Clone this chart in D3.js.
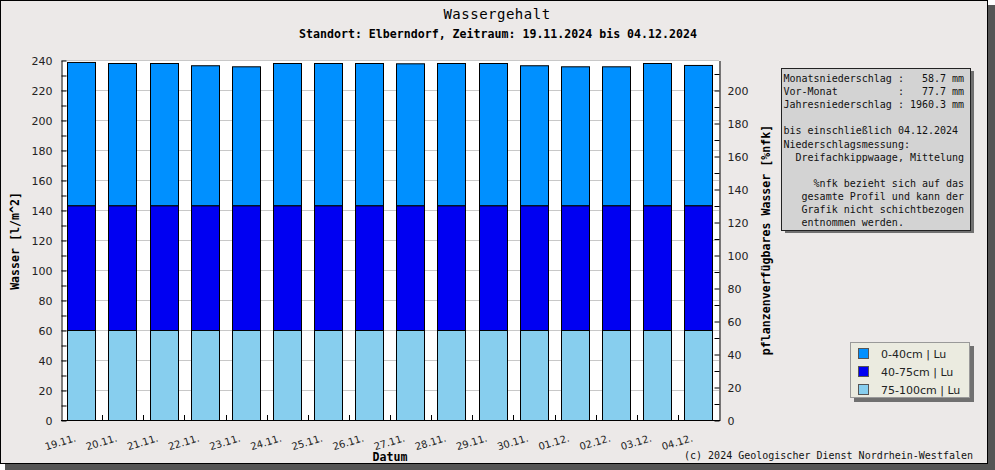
<!DOCTYPE html>
<html>
<head>
<meta charset="utf-8">
<script src="https://cdn.jsdelivr.net/npm/d3@7"></script>
<style>
  html, body { margin: 0; padding: 0; background: #fff; }
  svg { display: block; }
  .mono { font-family: "DejaVu Sans Mono", monospace; }
  .sans { font-family: "DejaVu Sans", sans-serif; }
</style>
</head>
<body>
<svg id="chart" width="995" height="470"></svg>
<script>
// dates on the x axis
const datum = ['19.11.', '20.11.', '21.11.', '22.11.', '23.11.', '24.11.', '25.11.', '26.11.',
               '27.11.', '28.11.', '29.11.', '30.11.', '01.12.', '02.12.', '03.12.', '04.12.'];

// water content per layer [l/m^2]
const schicht_0_40   = [95.5, 94.8, 94.8, 93.3, 92.6, 94.8, 94.8, 94.8, 94.6, 94.8, 94.8, 93.3, 92.6, 92.6, 94.8, 93.5];
const schicht_40_75  = [83.2, 83.2, 83.2, 83.2, 83.2, 83.2, 83.2, 83.2, 83.2, 83.2, 83.2, 83.2, 83.2, 83.2, 83.2, 83.2];
const schicht_75_100 = [60, 60, 60, 60, 60, 60, 60, 60, 60, 60, 60, 60, 60, 60, 60, 60];

const legendLabels = ['0-40cm | Lu', '40-75cm | Lu', '75-100cm | Lu'];
const layerColors = ['#0090ff', '#0000f2', '#87ceee'];

const leftTicks = [0, 20, 40, 60, 80, 100, 120, 140, 160, 180, 200, 220, 240];
const rightTicks = [0, 20, 40, 60, 80, 100, 120, 140, 160, 180, 200];

const infoLines = [
  'Monatsniederschlag :   58.7 mm',
  'Vor-Monat          :   77.7 mm',
  'Jahresniederschlag : 1960.3 mm',
  '',
  'bis einschließlich 04.12.2024',
  'Niederschlagsmessung:',
  '  Dreifachkippwaage, Mittelung',
  '',
  '     %nfk bezieht sich auf das',
  '   gesamte Profil und kann der',
  '   Grafik nicht schichtbezogen',
  '   entnommen werden.'
];

const svg = d3.select('#chart');

// outer frame with shadow
svg.append('rect').attr('x', 5).attr('y', 5).attr('width', 990).attr('height', 465).attr('fill', '#555');
svg.append('rect').attr('x', 0.5).attr('y', 0.5).attr('width', 987).attr('height', 463)
  .attr('fill', '#ece9e8').attr('stroke', '#000').attr('stroke-width', 1);

const plot = {left: 61, right: 719, top: 60, bottom: 420};

const x = d3.scaleBand()
  .domain(datum)
  .range([plot.left, plot.right])
  .paddingInner(0.31)
  .paddingOuter(0.155);

const y = d3.scaleLinear().domain([0, 240]).range([plot.bottom, plot.top]);
const y2 = d3.scaleLinear().domain([0, 240 / 1.1]).range([plot.bottom, plot.top]);

// plot background
svg.append('rect')
  .attr('x', plot.left).attr('y', plot.top)
  .attr('width', plot.right - plot.left).attr('height', plot.bottom - plot.top)
  .attr('fill', '#fff');

// grid lines
svg.append('g').selectAll('line')
  .data(leftTicks.filter(d => d > 0))
  .enter().append('line')
  .attr('x1', plot.left).attr('x2', plot.right)
  .attr('y1', d => Math.round(y(d)) + 0.5).attr('y2', d => Math.round(y(d)) + 0.5)
  .attr('stroke', '#c8c8c8');

// stacked bars
const rows = datum.map((d, i) => ({
  datum: d,
  s75: schicht_75_100[i],
  s40: schicht_40_75[i],
  s0: schicht_0_40[i]
}));
const stack = d3.stack().keys(['s75', 's40', 's0'])(rows);
const stackColors = [layerColors[2], layerColors[1], layerColors[0]];

stack.forEach((layer, li) => {
  svg.append('g').selectAll('rect')
    .data(layer)
    .enter().append('rect')
    .attr('x', d => Math.round(x(d.data.datum)) + 0.5)
    .attr('width', Math.round(x.bandwidth()))
    .attr('y', d => y(d[1]) + 0.5)
    .attr('height', d => y(d[0]) - y(d[1]))
    .attr('fill', stackColors[li])
    .attr('stroke', '#000')
    .attr('stroke-width', 1);
});

// left axis
const leftAxis = d3.axisLeft(y)
  .tickValues(d3.range(0, 241, 10))
  .tickSizeInner(-5).tickSizeOuter(0)
  .tickFormat(d => d % 20 === 0 ? d : '');
const gl = svg.append('g').attr('transform', `translate(${plot.left + 0.5},0.5)`).call(leftAxis);
gl.select('.domain').attr('stroke', '#000');
gl.selectAll('text').attr('class', 'sans').attr('font-size', 11).attr('fill', '#222').attr('x', -9);

// right axis
const rightAxis = d3.axisRight(y2)
  .tickValues(d3.range(0, 211, 10))
  .tickSizeInner(-5).tickSizeOuter(0)
  .tickFormat(d => d % 20 === 0 ? d : '');
const gr = svg.append('g').attr('transform', `translate(${plot.right + 0.5},0.5)`).call(rightAxis);
gr.select('.domain').attr('stroke', '#000');
gr.selectAll('text').attr('class', 'sans').attr('font-size', 11).attr('fill', '#222').attr('x', 8);

// bottom axis: ticks at band boundaries
svg.append('line')
  .attr('x1', plot.left).attr('x2', plot.right + 1)
  .attr('y1', plot.bottom + 0.5).attr('y2', plot.bottom + 0.5)
  .attr('stroke', '#000');
svg.append('g').selectAll('line')
  .data(datum.slice(1))
  .enter().append('line')
  .attr('x1', d => Math.round(x(d) - x.step() * x.paddingInner() / 2) + 0.5)
  .attr('x2', d => Math.round(x(d) - x.step() * x.paddingInner() / 2) + 0.5)
  .attr('y1', plot.bottom).attr('y2', plot.bottom - 5)
  .attr('stroke', '#000');

svg.append('g').selectAll('text')
  .data(datum)
  .enter().append('text')
  .attr('class', 'sans')
  .attr('font-size', 10)
  .attr('fill', '#222')
  .attr('text-anchor', 'end')
  .attr('transform', d => `translate(${x(d) + x.bandwidth() / 2 - 5},${plot.bottom + 21}) rotate(-17)`)
  .text(d => d);

// titles
svg.append('text').attr('class', 'mono')
  .attr('x', 497).attr('y', 19).attr('text-anchor', 'middle')
  .attr('font-size', 14).attr('letter-spacing', 0.5)
  .text('Wassergehalt');
svg.append('text').attr('class', 'mono')
  .attr('x', 498).attr('y', 38).attr('text-anchor', 'middle')
  .attr('font-size', 11.6).attr('font-weight', 'bold')
  .text('Standort: Elberndorf, Zeitraum: 19.11.2024 bis 04.12.2024');

svg.append('text').attr('class', 'mono')
  .attr('transform', 'translate(19,241) rotate(-90)')
  .attr('text-anchor', 'middle').attr('font-size', 11.6).attr('font-weight', 'bold')
  .text('Wasser [l/m^2]');
svg.append('text').attr('class', 'mono')
  .attr('transform', 'translate(770,240) rotate(-90)')
  .attr('text-anchor', 'middle').attr('font-size', 11.6).attr('font-weight', 'bold')
  .text('pflanzenverfügbares Wasser [%nfk]');
svg.append('text').attr('class', 'mono')
  .attr('x', 390).attr('y', 461).attr('text-anchor', 'middle')
  .attr('font-size', 11.6).attr('font-weight', 'bold')
  .text('Datum');

svg.append('text').attr('class', 'mono')
  .attr('x', 973).attr('y', 459).attr('text-anchor', 'end')
  .attr('font-size', 10).attr('fill', '#111')
  .text('(c) 2024 Geologischer Dienst Nordrhein-Westfalen');

// info box
svg.append('rect').attr('x', 785).attr('y', 71).attr('width', 189).attr('height', 162).attr('fill', '#707070');
svg.append('rect').attr('x', 781.5).attr('y', 68.5).attr('width', 189).attr('height', 162)
  .attr('fill', '#d3d3d3').attr('stroke', '#222');
svg.append('g').selectAll('text')
  .data(infoLines)
  .enter().append('text')
  .attr('class', 'mono')
  .attr('xml:space', 'preserve')
  .style('white-space', 'pre')
  .attr('x', 783.5)
  .attr('y', (d, i) => 82 + i * 13.1)
  .attr('font-size', 10).attr('fill', '#111')
  .text(d => d);

// legend
svg.append('rect').attr('x', 854).attr('y', 346).attr('width', 120).attr('height', 56).attr('fill', '#707070');
svg.append('rect').attr('x', 850.5).attr('y', 342.5).attr('width', 119).attr('height', 55)
  .attr('fill', '#ebebe0').attr('stroke', '#999');
const lg = svg.append('g').selectAll('g')
  .data(legendLabels)
  .enter().append('g')
  .attr('transform', (d, i) => `translate(858,${348 + i * 18})`);
lg.append('rect')
  .attr('x', 0.5).attr('y', 0.5).attr('width', 10).attr('height', 10)
  .attr('fill', (d, i) => layerColors[i]).attr('stroke', '#555');
lg.append('text')
  .attr('class', 'sans')
  .attr('x', 23).attr('y', 10)
  .attr('font-size', 11).attr('fill', '#222')
  .text(d => d);
</script>
</body>
</html>
